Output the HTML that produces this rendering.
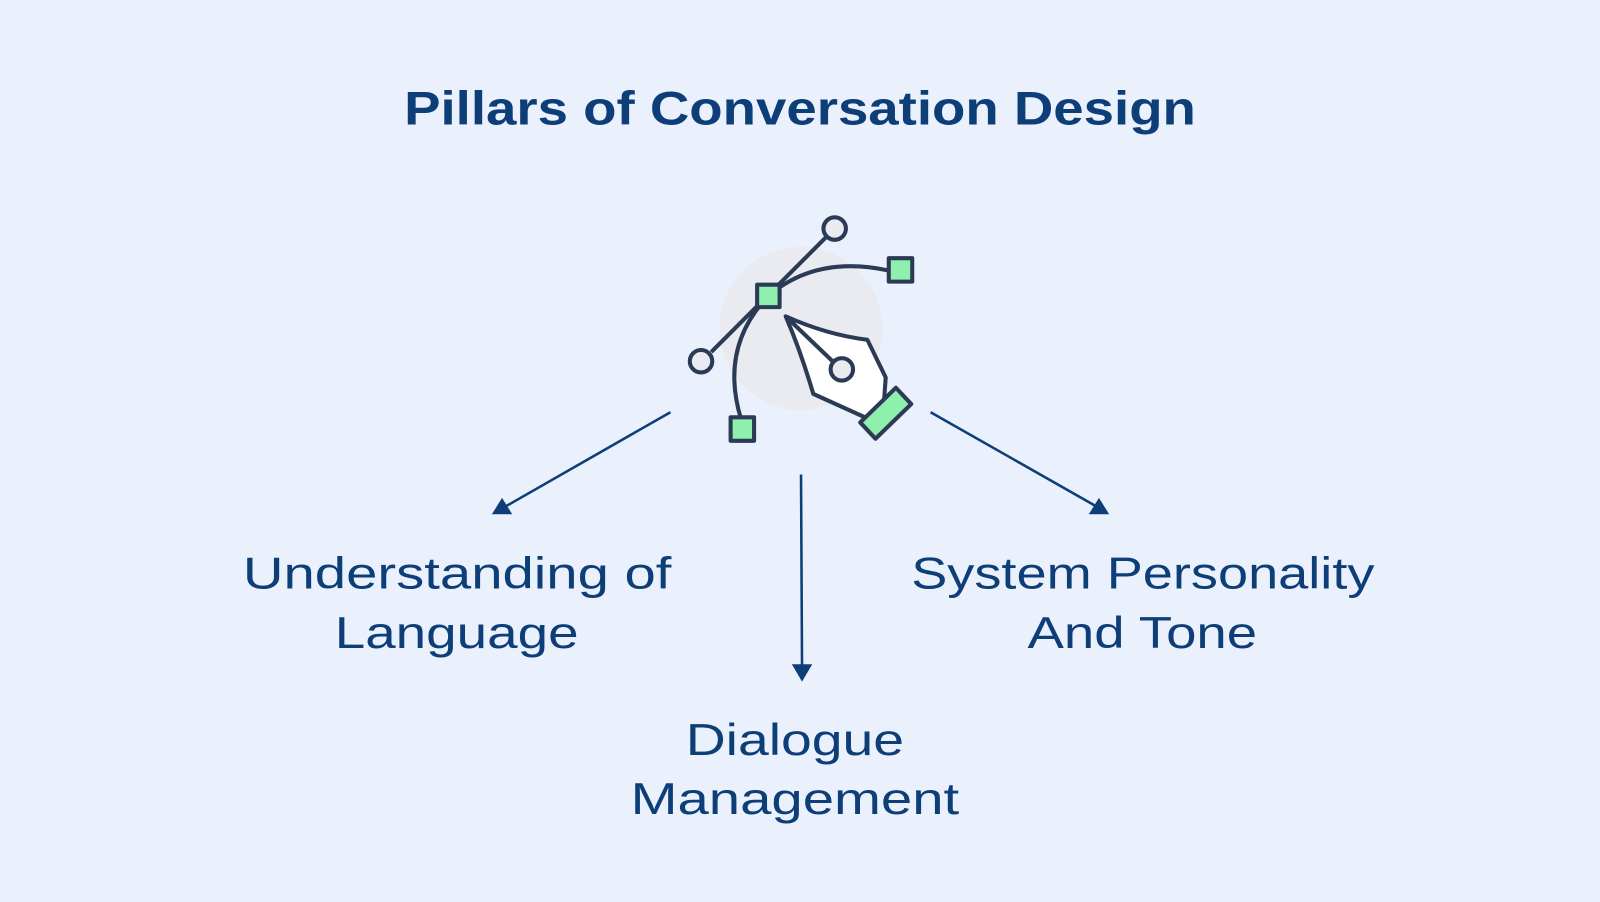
<!DOCTYPE html>
<html><head><meta charset="utf-8"><style>
html,body{margin:0;padding:0;background:#eaf1fd;}
svg{display:block;}
text{font-family:"Liberation Sans",sans-serif;fill:#0e3e78;}
</style></head><body>
<svg width="1600" height="902" viewBox="0 0 1568 884" xmlns="http://www.w3.org/2000/svg">
<rect width="1568" height="884" fill="#eaf1fd"/>
<text x="784" y="122" text-anchor="middle" font-size="46" font-weight="bold" textLength="776" lengthAdjust="spacingAndGlyphs">Pillars of Conversation Design</text>
<circle cx="785" cy="322" r="80" fill="#e9ebf0"/>
<g stroke="#2b3a55" stroke-width="4" fill="none" stroke-linejoin="round">
<line x1="697" y1="345" x2="810" y2="232"/>
<path d="M753 290 Q800 250 870 265"/>
<path d="M753 290 Q705 340 726 410"/>
<circle cx="818" cy="224" r="11" fill="#e9ebf0"/>
<circle cx="687" cy="354" r="11" fill="#e9ebf0"/>
<rect x="742" y="279" width="22" height="22" fill="#8ff0ad"/>
<rect x="871" y="253" width="23" height="23" fill="#8ff0ad"/>
<rect x="716" y="409" width="23" height="23" fill="#8ff0ad"/>
<path d="M770 310 Q810 328 850 333 L868 370 L866 398 L850 410 L797 386 Q785 345 770 310 Z" fill="#fff"/>
<line x1="772" y1="312" x2="818" y2="356"/>
<circle cx="825" cy="362" r="11" fill="#e9ebf0"/>
<path d="M843 414 L878 380 L893 396 L858 430 Z" fill="#8ff0ad"/>
</g>
<g stroke="#0e3e78" stroke-width="2.5" fill="#0e3e78">
<line x1="657" y1="404" x2="496" y2="496"/>
<polygon points="482,504 502,504 492,488" stroke="none"/>
<line x1="785" y1="465" x2="786" y2="655"/>
<polygon points="776,651 796,651 786,668" stroke="none"/>
<line x1="912" y1="404" x2="1074" y2="496"/>
<polygon points="1067,504 1087,504 1077,488" stroke="none"/>
</g>
<g font-size="44" lengthAdjust="spacingAndGlyphs">
<text x="238" y="577" textLength="420" lengthAdjust="spacingAndGlyphs">Understanding of</text>
<text x="328" y="635" textLength="239" lengthAdjust="spacingAndGlyphs">Language</text>
<text x="893" y="577" textLength="454" lengthAdjust="spacingAndGlyphs">System Personality</text>
<text x="1007" y="635" textLength="225" lengthAdjust="spacingAndGlyphs">And Tone</text>
<text x="672" y="740" textLength="214" lengthAdjust="spacingAndGlyphs">Dialogue</text>
<text x="618" y="798" textLength="322" lengthAdjust="spacingAndGlyphs">Management</text>
</g>
</svg>
</body></html>
